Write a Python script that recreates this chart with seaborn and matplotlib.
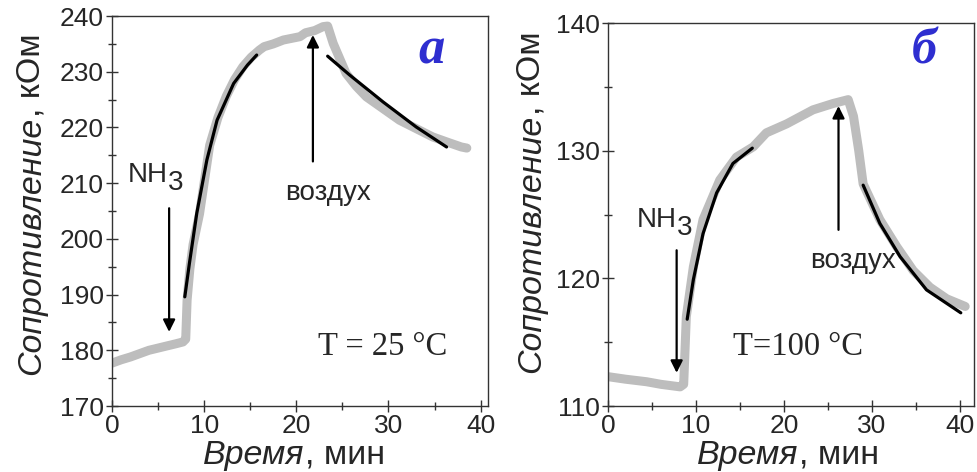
import matplotlib
matplotlib.use("Agg")
import matplotlib.pyplot as plt
import matplotlib.transforms as mtransforms
import seaborn as sns
import pandas as pd

# --- data (time in min, resistance in kOhm) ---
# panel a, T = 25 C
t_a = [0, 1, 2, 3, 4, 5, 6, 7, 7.7, 8.0, 8.15, 8.45, 8.8, 9.5, 10.6, 11.5,
       12.4, 13.3, 14.2, 15.1, 16.0, 16.5, 17.5, 18.6, 19.5, 20.4, 21.0, 22.0,
       22.9, 23.4, 24.0, 25.4, 26.5, 27.6, 29.4, 31.2, 33.0, 34.8, 36.5, 37.9, 38.5]
r_a = [177.7, 178.3, 178.8, 179.4, 180.0, 180.4, 180.8, 181.2, 181.5, 182.0,
       189.0, 194.6, 199.0, 204.5, 216.8, 221.8, 225.6, 228.6, 230.9, 232.6,
       233.9, 234.5, 235.0, 235.7, 236.0, 236.3, 237.0, 237.4, 238.1, 238.2,
       235.1, 229.7, 227.4, 225.5, 223.4, 221.3, 219.8, 218.3, 217.3, 216.5, 216.3]
fit1_t_a = [7.9, 8.4, 9.2, 10.3, 11.4, 13.2, 14.7, 15.7]
fit1_r_a = [189.6, 195.6, 204.6, 214.2, 221.3, 227.9, 231.2, 233.0]
fit2_t_a = [23.4, 25.8, 29.4, 33.0, 36.3]
fit2_r_a = [232.8, 229.4, 224.6, 220.1, 216.5]

# panel b, T = 100 C
t_b = [0, 2, 4.4, 6, 8.2, 8.6, 8.9, 9.7, 10.8, 12.7, 14.6, 16.5, 18.0, 20.3,
       23.3, 25.6, 27.3, 27.9, 28.5, 29.0, 30.9, 32.8, 34.7, 36.6, 38.5, 40.6]
r_b = [112.3, 112.1, 111.9, 111.7, 111.5, 111.7, 117.0, 120.9, 124.6, 127.7,
       129.5, 130.3, 131.4, 132.1, 133.2, 133.7, 134.0, 132.7, 130.0, 127.4,
       124.6, 122.5, 120.6, 119.3, 118.4, 117.8]
fit1_t_b = [9.0, 9.7, 10.8, 12.35, 14.2, 16.4]
fit1_r_b = [116.8, 119.9, 123.5, 126.7, 129.0, 130.2]
fit2_t_b = [29.0, 30.9, 33.2, 36.2, 40.1]
fit2_r_b = [127.3, 124.3, 121.7, 119.1, 117.3]

sns.set_style("ticks")
plt.rcParams['font.family'] = ['Liberation Sans', 'DejaVu Sans']
plt.rcParams['axes.edgecolor'] = '#333333'
plt.rcParams['axes.linewidth'] = 1.0

GRAY = '#bdbdbd'
BLUE = '#2e2ed0'

fig = plt.figure(figsize=(9.78, 4.72), dpi=100)
ax1 = fig.add_axes([0.1145, 0.1398, 0.3845, 0.8262])
ax2 = fig.add_axes([0.6217, 0.1398, 0.3742, 0.8114])


def draw_panel(ax, t, r, f1t, f1r, f2t, f2r):
    sns.lineplot(data=pd.DataFrame({'t': t, 'r': r}), x='t', y='r', ax=ax,
                 sort=False, estimator=None, color=GRAY, linewidth=6.5,
                 marker='s', markersize=5, markeredgewidth=0)
    for ft, fr in [(f1t, f1r), (f2t, f2r)]:
        sns.lineplot(data=pd.DataFrame({'t': ft, 'r': fr}), x='t', y='r',
                     ax=ax, sort=False, estimator=None, color='black',
                     linewidth=2.3)
    ax.set_xlabel('')
    ax.set_ylabel('')
    ax.set_xticks([0, 10, 20, 30, 40])
    ax.set_xticks([5, 15, 25, 35], minor=True)
    ax.tick_params(which='major', direction='inout', length=8, width=1,
                   labelsize=19, color='#333333', pad=2)
    ax.tick_params(which='minor', direction='inout', length=6, width=1,
                   color='#333333')
    for s in ax.spines.values():
        s.set_visible(True)


draw_panel(ax1, t_a, r_a, fit1_t_a, fit1_r_a, fit2_t_a, fit2_r_a)
ax1.set_xlim(0, 40.8)
ax1.set_ylim(170, 240)
ax1.set_yticks(range(170, 241, 10))
ax1.set_yticks(range(175, 240, 10), minor=True)

draw_panel(ax2, t_b, r_b, fit1_t_b, fit1_r_b, fit2_t_b, fit2_r_b)
ax2.set_xlim(0, 41.6)
ax2.set_ylim(110, 140)
ax2.set_yticks([110, 120, 130, 140])
ax2.set_yticks([115, 125, 135], minor=True)

arrow = dict(arrowstyle='-|>', lw=1.6, color='black', mutation_scale=18,
             shrinkA=0, shrinkB=0)


def nh3(ax, x, y):
    ax.text(x, y, 'NH', fontsize=20, ha='right', va='baseline')
    off = mtransforms.offset_copy(ax.transData, fig=fig, x=0, y=-8, units='dots')
    ax.text(x, y, '3', fontsize=20, ha='left', va='baseline', transform=off)


# panel a annotations
nh3(ax1, 6.05, 210.2)
ax1.annotate('', xy=(6.2, 183.3), xytext=(6.2, 205.5), arrowprops=arrow)
ax1.annotate('', xy=(21.8, 236.6), xytext=(21.8, 213.9), arrowprops=arrow)
ax1.text(23.4, 207.0, 'воздух', fontsize=20, ha='center', va='baseline')
ax1.text(29.4, 179.15, 'T = 25 °C', fontsize=23.5, ha='center', va='baseline',
         family='Liberation Serif')
ax1.text(34.7, 231.5, 'а', fontsize=38, ha='center', va='baseline',
         family='Liberation Serif', style='italic', weight='bold', color=BLUE)

# panel b annotations
nh3(ax2, 7.8, 124.0)
ax2.annotate('', xy=(7.8, 112.6), xytext=(7.8, 122.2), arrowprops=arrow)
ax2.annotate('', xy=(26.2, 133.5), xytext=(26.2, 123.8), arrowprops=arrow)
ax2.text(27.8, 120.8, 'воздух', fontsize=20, ha='center', va='baseline')
ax2.text(21.65, 114.0, 'T=100 °C', fontsize=23.5, ha='center', va='baseline',
         family='Liberation Serif')
ax2.text(36.0, 136.84, 'б', fontsize=36, ha='center', va='baseline',
         family='Liberation Serif', style='italic', weight='bold', color=BLUE)

# axis labels: italic word + upright units, placed in pixels
renderer = fig.canvas.get_renderer()
px = mtransforms.IdentityTransform()


def mixed_label(cx, cy, italic, normal, rotation, size=24.5):
    kw = dict(fontsize=size, rotation=rotation, rotation_mode='anchor',
              ha='left', va='baseline', transform=px)
    t1 = fig.text(0, 0, italic, style='italic', **kw)
    t2 = fig.text(0, 0, normal, **kw)
    b1 = t1.get_window_extent(renderer)
    b2 = t2.get_window_extent(renderer)
    if rotation == 0:
        x0 = cx - (b1.width + b2.width) / 2
        t1.set_position((x0, cy))
        t2.set_position((x0 + b1.width, cy))
    else:
        y0 = cy - (b1.height + b2.height) / 2
        t1.set_position((cx, y0))
        t2.set_position((cx, y0 + b1.height))


H = 472
mixed_label(294, H - 464, 'Время', ', мин', 0)
mixed_label(788, H - 464, 'Время', ', мин', 0)
mixed_label(40, H - 204, 'Сопротивление', ', кОм', 90)
mixed_label(540, H - 202, 'Сопротивление', ', кОм', 90)

fig.savefig('out.png', dpi=100)
